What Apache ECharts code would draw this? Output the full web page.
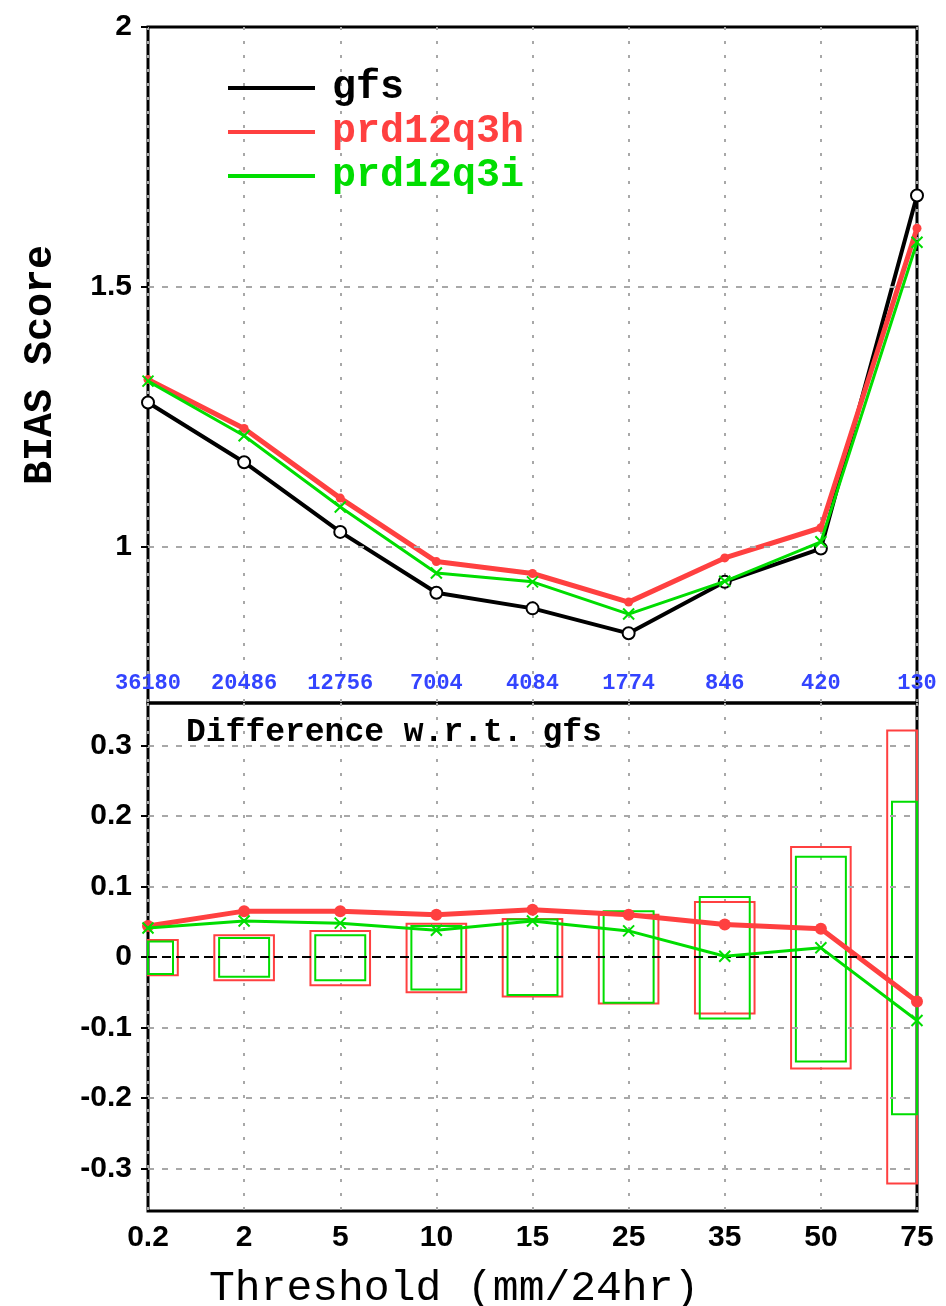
<!DOCTYPE html>
<html>
<head>
<meta charset="utf-8">
<script src="https://cdn.jsdelivr.net/npm/echarts@6/dist/echarts.min.js"></script>
<style>
  html, body { margin: 0; padding: 0; background: #fff; }
  #chart { width: 946px; height: 1306px; }
</style>
</head>
<body>
<div id="chart"></div>
<script>
// Precipitation thresholds (mm/24hr) and the number of observed points per threshold
const thresholds = ['0.2', '2', '5', '10', '15', '25', '35', '50', '75'];
const counts = ['36180', '20486', '12756', '7004', '4084', '1774', '846', '420', '130'];

// BIAS scores
const gfsBias = [1.278, 1.163, 1.029, 0.912, 0.882, 0.834, 0.933, 0.997, 1.676];
const prd12q3hBias = [1.322, 1.228, 1.094, 0.972, 0.949, 0.894, 0.979, 1.037, 1.613];
const prd12q3iBias = [1.319, 1.214, 1.077, 0.950, 0.933, 0.871, 0.934, 1.010, 1.586];

// Difference with respect to gfs
const prd12q3hDiff = [0.044, 0.065, 0.065, 0.060, 0.067, 0.060, 0.046, 0.040, -0.063];
const prd12q3iDiff = [0.041, 0.051, 0.048, 0.038, 0.051, 0.037, 0.001, 0.013, -0.090];

// Significance boxes (upper / lower bound of each box)
const prd12q3hBoxHigh = [0.024, 0.031, 0.037, 0.047, 0.054, 0.060, 0.078, 0.156, 0.321];
const prd12q3hBoxLow = [-0.026, -0.033, -0.040, -0.050, -0.056, -0.066, -0.080, -0.158, -0.321];
const prd12q3iBoxHigh = [0.022, 0.027, 0.031, 0.044, 0.053, 0.065, 0.085, 0.142, 0.220];
const prd12q3iBoxLow = [-0.024, -0.028, -0.033, -0.046, -0.054, -0.065, -0.087, -0.148, -0.223];

// Tick values
const biasTicks = [1, 1.5, 2];
const diffTicks = [-0.3, -0.2, -0.1, 0, 0.1, 0.2, 0.3];
const diffGrid = [-0.3, -0.2, -0.1, 0.1, 0.2, 0.3];

const RED = '#ff4040';
const GREEN = '#00dd00';
const BLACK = '#000000';
const GRID_GRAY = '#a8a8a8';

const boxData = (hi, lo) => hi.map((h, i) => [i, h, lo[i]]);

function boxRenderer(frac, color) {
  return function (params, api) {
    const i = api.value(0);
    const top = api.coord([i, api.value(1)]);
    const bot = api.coord([i, api.value(2)]);
    const half = api.size([1, 0])[0] * frac;
    const cs = params.coordSys;
    const x0 = Math.max(top[0] - half, cs.x);
    const x1 = Math.min(top[0] + half, cs.x + cs.width);
    return {
      type: 'rect',
      shape: { x: x0, y: top[1], width: x1 - x0, height: bot[1] - top[1] },
      style: { fill: 'none', stroke: color, lineWidth: 2 }
    };
  };
}

const crossSymbol = 'path://M0,0L10,10M10,0L0,10';
const tickFont = { fontFamily: 'Liberation Sans', fontWeight: 'bold', fontSize: 30, color: BLACK };
const vGrid = { show: true, lineStyle: { color: GRID_GRAY, width: 2, type: [3, 11] } };
const hGridStyle = { color: GRID_GRAY, width: 2, type: [6, 8] };

const chart = echarts.init(document.getElementById('chart'), null, { renderer: 'canvas' });

chart.setOption({
  animation: false,
  backgroundColor: '#fff',
  grid: [
    { left: 148, right: 29, top: 27, height: 676, show: true, borderColor: BLACK, borderWidth: 3, backgroundColor: 'transparent' },
    { left: 148, right: 29, top: 703, height: 508, show: true, borderColor: BLACK, borderWidth: 3, backgroundColor: 'transparent' }
  ],
  title: [
    {
      text: 'Difference w.r.t. gfs', left: 181, top: 711,
      textStyle: { fontFamily: 'Liberation Mono', fontWeight: 'bold', fontSize: 33, color: BLACK }
    },
    {
      text: 'Threshold (mm/24hr)', left: 204, top: 1262,
      textStyle: { fontFamily: 'Liberation Mono', fontWeight: 'normal', fontSize: 43, color: BLACK }
    }
  ],
  legend: {
    left: 223, top: 61, orient: 'vertical',
    itemWidth: 87, itemHeight: 4, itemGap: 0,
    selectedMode: false,
    textStyle: { fontFamily: 'Liberation Mono', fontWeight: 'bold', fontSize: 40, lineHeight: 44, padding: [0, 0, 0, 12] },
    data: [
      { name: 'gfs', icon: 'rect', itemStyle: { color: BLACK, borderWidth: 0 }, textStyle: { color: BLACK } },
      { name: 'prd12q3h', icon: 'rect', itemStyle: { color: RED, borderWidth: 0 }, textStyle: { color: RED } },
      { name: 'prd12q3i', icon: 'rect', itemStyle: { color: GREEN, borderWidth: 0 }, textStyle: { color: GREEN } }
    ]
  },
  xAxis: [
    {
      gridIndex: 0, type: 'category', data: counts, boundaryGap: false,
      axisLine: { show: false }, axisTick: { show: false },
      axisLabel: { inside: true, margin: 9, interval: 0, color: '#3344ff', fontFamily: 'Liberation Mono', fontWeight: 'bold', fontSize: 22 },
      splitLine: vGrid
    },
    {
      gridIndex: 1, type: 'category', data: thresholds, boundaryGap: false,
      axisLine: { show: false }, axisTick: { show: false },
      axisLabel: Object.assign({ margin: 12, interval: 0 }, tickFont),
      splitLine: vGrid
    }
  ],
  yAxis: [
    {
      gridIndex: 0, type: 'value', min: 0.7, max: 2,
      name: 'BIAS Score', nameLocation: 'middle', nameRotate: 90, nameGap: 87,
      nameTextStyle: { fontFamily: 'Liberation Mono', fontWeight: 'bold', fontSize: 40, color: BLACK },
      axisLine: { show: false },
      axisTick: { show: true, customValues: biasTicks, length: 7, lineStyle: { color: BLACK, width: 2 } },
      axisLabel: Object.assign({ customValues: biasTicks, margin: 16 }, tickFont),
      splitLine: { show: false }
    },
    {
      gridIndex: 1, type: 'value', min: -0.36, max: 0.36,
      axisLine: { show: false },
      axisTick: { show: true, customValues: diffTicks, length: 7, lineStyle: { color: BLACK, width: 2 } },
      axisLabel: Object.assign({ customValues: diffTicks, margin: 16, formatter: v => String(Math.round(v * 10) / 10) }, tickFont),
      splitLine: { show: false }
    }
  ],
  series: [
    {
      name: 'prd12q3h', type: 'custom', xAxisIndex: 1, yAxisIndex: 1, z: 1, silent: true,
      data: boxData(prd12q3hBoxHigh, prd12q3hBoxLow),
      renderItem: boxRenderer(0.31, RED),
      markLine: {
        silent: true, symbol: 'none', label: { show: false },
        lineStyle: hGridStyle,
        data: diffGrid.map(v => ({ yAxis: v })).concat([
          { yAxis: 0, lineStyle: { color: BLACK, width: 2, type: [9, 5] } }
        ])
      }
    },
    {
      name: 'prd12q3i', type: 'custom', xAxisIndex: 1, yAxisIndex: 1, z: 1, silent: true,
      data: boxData(prd12q3iBoxHigh, prd12q3iBoxLow),
      renderItem: boxRenderer(0.26, GREEN)
    },
    {
      name: 'gfs', type: 'line', xAxisIndex: 0, yAxisIndex: 0, z: 3,
      data: gfsBias,
      symbol: 'emptyCircle', symbolSize: 12,
      lineStyle: { color: BLACK, width: 4 },
      itemStyle: { color: BLACK, borderColor: BLACK, borderWidth: 3 },
      emphasis: { disabled: true },
      markLine: {
        silent: true, symbol: 'none', label: { show: false },
        lineStyle: hGridStyle,
        data: [{ yAxis: 1 }, { yAxis: 1.5 }]
      }
    },
    {
      name: 'prd12q3h', type: 'line', xAxisIndex: 0, yAxisIndex: 0, z: 4,
      data: prd12q3hBias,
      symbol: 'circle', symbolSize: 9,
      lineStyle: { color: RED, width: 5 },
      itemStyle: { color: RED },
      emphasis: { disabled: true }
    },
    {
      name: 'prd12q3i', type: 'line', xAxisIndex: 0, yAxisIndex: 0, z: 5,
      data: prd12q3iBias,
      symbol: crossSymbol, symbolSize: 11,
      lineStyle: { color: GREEN, width: 3 },
      itemStyle: { color: GREEN, borderColor: GREEN, borderWidth: 2 },
      emphasis: { disabled: true }
    },
    {
      name: 'prd12q3h', type: 'line', xAxisIndex: 1, yAxisIndex: 1, z: 4,
      data: prd12q3hDiff,
      symbol: 'circle', symbolSize: 12,
      lineStyle: { color: RED, width: 5 },
      itemStyle: { color: RED },
      emphasis: { disabled: true }
    },
    {
      name: 'prd12q3i', type: 'line', xAxisIndex: 1, yAxisIndex: 1, z: 5,
      data: prd12q3iDiff,
      symbol: crossSymbol, symbolSize: 11,
      lineStyle: { color: GREEN, width: 3 },
      itemStyle: { color: GREEN, borderColor: GREEN, borderWidth: 2 },
      emphasis: { disabled: true }
    }
  ]
});
</script>
</body>
</html>
